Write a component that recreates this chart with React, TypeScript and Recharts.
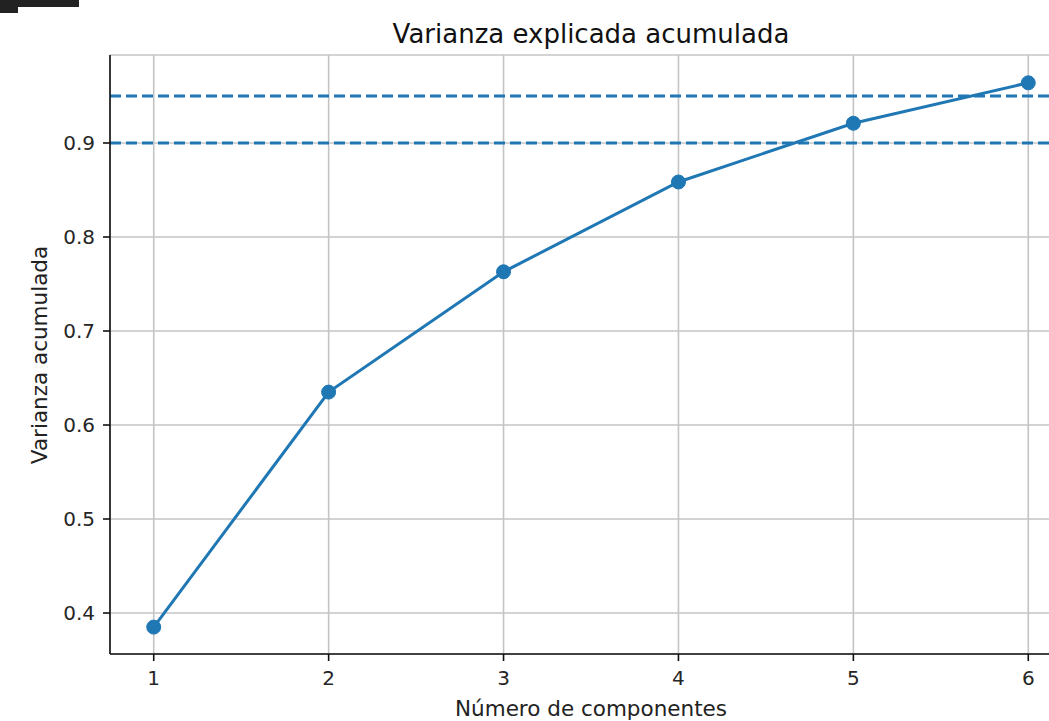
import React from 'react';
import {
  LineChart, Line, XAxis, YAxis, CartesianGrid, ReferenceLine,
} from 'recharts';

// cumulative explained variance per number of components
const components = [1, 2, 3, 4, 5, 6];
const cumulativeVariance = [0.385, 0.635, 0.763, 0.8585, 0.921, 0.964];
const thresholds = [0.95, 0.9];
const yTicks = [0.4, 0.5, 0.6, 0.7, 0.8, 0.9];

const data = components.map((n, i) => ({ n, v: cumulativeVariance[i] }));

const BLUE = '#1f77b4';
const FONT = '"DejaVu Sans", sans-serif';
const tickStyle = { fontSize: 20, fill: '#262626', fontFamily: FONT };

export default function App() {
  return (
    <div style={{ position: 'absolute', left: 0, top: 0, width: 1049, height: 721, overflow: 'hidden', background: '#fff', fontFamily: FONT }}>
      <div style={{ position: 'absolute', left: 0, top: 0, width: 79, height: 7, background: '#222' }} />
      <div style={{ position: 'absolute', left: 0, top: 0, width: 18, height: 13, background: '#222' }} />
      <LineChart width={1100} height={721} data={data} margin={{ top: 55, right: 28, bottom: 27, left: 0 }}>
        <CartesianGrid stroke="#c4c4c4" strokeWidth={1.6} />
        <XAxis
          dataKey="n" type="number" domain={[0.75, 6.25]} ticks={components} allowDataOverflow
          height={40} tickSize={7} tickMargin={10}
          axisLine={{ stroke: '#111', strokeWidth: 1.6 }} tickLine={{ stroke: '#111', strokeWidth: 1.6 }}
          tick={tickStyle}
        />
        <XAxis xAxisId="top" orientation="top" dataKey="n" type="number" domain={[0.75, 6.25]} height={0}
          tick={false} tickLine={false} axisLine={{ stroke: '#111', strokeWidth: 1.6 }} />
        <YAxis
          type="number" domain={[0.3564, 0.9936]} ticks={yTicks} allowDataOverflow
          width={110} tickSize={7} tickMargin={8}
          axisLine={{ stroke: '#111', strokeWidth: 1.6 }} tickLine={{ stroke: '#111', strokeWidth: 1.6 }}
          tick={tickStyle}
        />
        {thresholds.map((t) => (
          <ReferenceLine key={t} y={t} stroke={BLUE} strokeWidth={3} strokeDasharray="11 5" />
        ))}
        <Line
          dataKey="v" stroke={BLUE} strokeWidth={3}
          dot={{ r: 7, fill: BLUE, stroke: BLUE, strokeWidth: 1 }}
          activeDot={false} isAnimationActive={false}
        />
      </LineChart>
      <div style={{ position: 'absolute', left: 591, top: 34, transform: 'translate(-50%, -50%)', fontSize: 26, lineHeight: 1, color: '#111', whiteSpace: 'nowrap' }}>
        Varianza explicada acumulada
      </div>
      <div style={{ position: 'absolute', left: 591, top: 709, transform: 'translate(-50%, -50%)', fontSize: 21.5, lineHeight: 1, color: '#222', whiteSpace: 'nowrap' }}>
        Número de componentes
      </div>
      <div style={{ position: 'absolute', left: 40, top: 355, transform: 'translate(-50%, -50%) rotate(-90deg)', fontSize: 21.5, lineHeight: 1, color: '#222', whiteSpace: 'nowrap' }}>
        Varianza acumulada
      </div>
    </div>
  );
}
